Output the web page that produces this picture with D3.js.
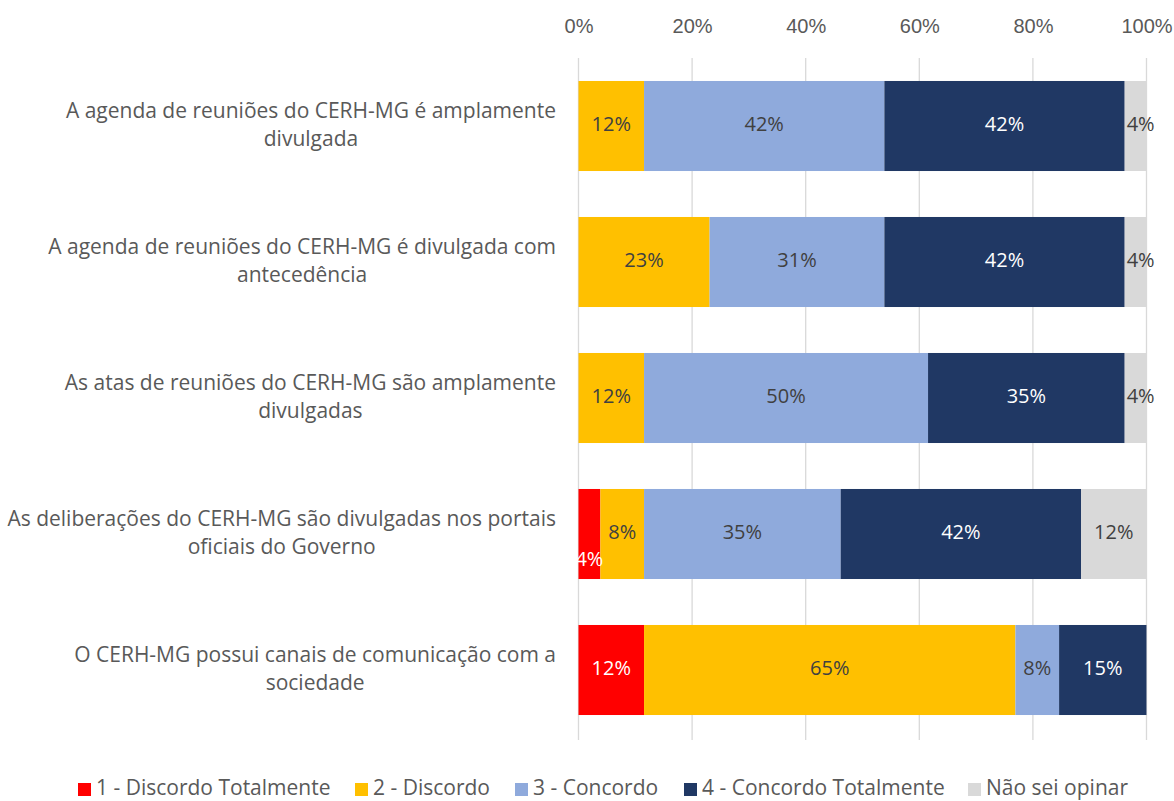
<!DOCTYPE html>
<html><head><meta charset="utf-8">
<script src="https://cdn.jsdelivr.net/npm/d3@7"></script>
<style>body{margin:0;background:#fff;}svg{display:block;font-family:"Open Sans",Lato,sans-serif;}</style>
</head><body>
<svg id="c" width="1174" height="801"></svg>
<script>
const categories = [
  ["A agenda de reuniões do CERH-MG é amplamente", "divulgada"],
  ["A agenda de reuniões do CERH-MG é divulgada com", "antecedência"],
  ["As atas de reuniões do CERH-MG são amplamente", "divulgadas"],
  ["As deliberações do CERH-MG são divulgadas nos portais", "oficiais do Governo"],
  ["O CERH-MG possui canais de comunicação com a", "sociedade"]
];
const seriesNames = ["1 - Discordo Totalmente", "2 - Discordo", "3 - Concordo", "4 - Concordo Totalmente", "Não sei opinar"];
const seriesColors = ["#FF0000", "#FFC000", "#8FAADC", "#203864", "#D9D9D9"];
const labelColors = ["#FFFFFF", "#404040", "#404040", "#FFFFFF", "#404040"];
// percent values per series (rows = categories)
const s1 = [0, 0, 0, 3.85, 11.54];
const s2 = [11.54, 23.08, 11.54, 7.69, 65.38];
const s3 = [42.31, 30.77, 50.0, 34.62, 7.69];
const s4 = [42.31, 42.31, 34.62, 42.31, 15.38];
const s5 = [3.85, 3.85, 3.85, 11.54, 0];
const xTicks = [0, 20, 40, 60, 80, 100];

const series = [s1, s2, s3, s4, s5];
const svg = d3.select("#c");
const x = d3.scaleLinear().domain([0, 100]).range([578.5, 1146.5]);
const y = d3.scaleBand().domain(d3.range(categories.length)).range([58, 738]).paddingInner(0.338).paddingOuter(0.169);

// gridlines
svg.append("g").selectAll("line").data(xTicks).join("line")
  .attr("x1", d => x(d)).attr("x2", d => x(d)).attr("y1", 58).attr("y2", 740)
  .attr("stroke", "#D9D9D9").attr("stroke-width", 1.3);

// axis labels
const ax = svg.append("g").attr("transform", "translate(0,28)")
  .call(d3.axisTop(x).tickValues(xTicks).tickFormat(d => d + "%").tickSize(0).tickPadding(0));
ax.select(".domain").remove();
ax.selectAll("text").attr("font-size", 20).attr("fill", "#595959").attr("dominant-baseline", "middle").attr("dy", null).attr("font-family", null);

// stacks
const rows = categories.map((c, i) => {
  let acc = 0;
  return series.map((s, k) => { const seg = {row: i, k, v: s[i], x0: acc, x1: acc + s[i]}; acc += s[i]; return seg; });
});
const segs = rows.flat().filter(d => d.v > 0);
svg.append("g").selectAll("rect").data(segs).join("rect")
  .attr("x", d => x(d.x0)).attr("width", d => x(d.x1) - x(d.x0))
  .attr("y", d => y(d.row)).attr("height", y.bandwidth())
  .attr("fill", d => seriesColors[d.k]);

svg.append("g").selectAll("text").data(segs).join("text")
  .attr("x", d => (x(d.x0) + x(d.x1)) / 2 + (d.k === 4 && d.v < 5 ? 5 : 0))
  .attr("y", d => y(d.row) + y.bandwidth() / 2 + (d.k === 0 && d.v < 5 ? 27 : 0))
  .attr("text-anchor", "middle").attr("dominant-baseline", "middle")
  .attr("font-size", 20).attr("fill", d => labelColors[d.k])
  .text(d => Math.round(d.v) + "%");

// category labels
categories.forEach((lines, i) => {
  const g = svg.append("g");
  const cy = y(i) + y.bandwidth() / 2;
  const t = lines.map((l, j) => g.append("text").attr("font-size", 21).attr("fill", "#595959")
    .attr("text-anchor", "middle").attr("dominant-baseline", "middle")
    .attr("y", cy + (j - (lines.length - 1) / 2) * 28).text(l));
  const maxW = d3.max(t, e => e.node().getComputedTextLength());
  t.forEach(e => e.attr("x", 556 - maxW / 2));
});

// legend
const legX = [78, 355, 515, 684, 968];
const leg = svg.append("g").selectAll("g").data(seriesNames).join("g")
  .attr("transform", (d, i) => `translate(${legX[i]},789)`);
leg.append("rect").attr("x", 0).attr("y", -6).attr("width", 13).attr("height", 13).attr("fill", (d, i) => seriesColors[i]);
leg.append("text").attr("x", 18).attr("dominant-baseline", "middle").attr("font-size", 21).attr("fill", "#595959").text(d => d);
</script>
</body></html>
